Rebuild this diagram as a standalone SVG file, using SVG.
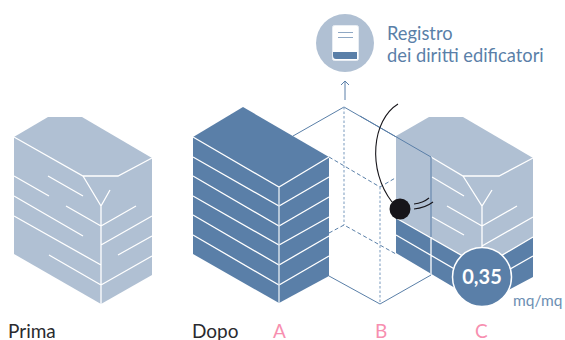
<svg xmlns="http://www.w3.org/2000/svg" width="565" height="340" viewBox="0 0 565 340">
<style>
text{font-family:"Lato","Liberation Sans",sans-serif}
.l{fill:#b0c0d3}.d{fill:#5a7fa8}
.w{fill:none;stroke:#fff;stroke-width:1.3}
.e{fill:none;stroke:#5a7fa8;stroke-width:1}
.s{fill:none;stroke:#5a7fa8;stroke-width:1;stroke-dasharray:4 2.5}
.v{fill:none;stroke:#8fabc9;stroke-width:1.2;stroke-dasharray:2.5 2}
.k{fill:none;stroke:#17151a;stroke-width:1.1}
.lab{font-size:19px;fill:#2a2a2e}
.pk{font-size:19px;fill:#f78fb0}
.bl{font-size:18.300px;fill:#5a7fa8}
</style>
<rect width="565" height="340" fill="#fff"/>
<g id="prima">
<path class="l" d="M14 137L48 117H82L152 158V275L101 304L14 254Z"/>
<path class="w" d="M14 137L83 176H118L152 158M83 176L101 206L110 190M101 206V304M14 176L49 196M48 176L83 196M14 196L83 236M66 206L101 226M14 216L101 265M49 255L101 285M101 226L136 206M101 245L152 216M118 255L152 236M101 285L152 256"/>
<text class="lab" x="8" y="338">Prima</text>
</g>
<g id="connectors">
<path class="e" d="M293 136L344 107L431 157V275L380 304L329 276"/>
<path class="s" d="M329 157L380 187L431 157M329 233L344 225L396 254"/>
<path class="v" d="M344 107V225M380 187V304"/>
<path class="e" d="M345 100V81M341 85L345 81L349 85"/>
</g>
<g id="dopo">
<path class="d" d="M193 137L243 107L329 157V276L279 303L193 254Z"/>
<path class="w" d="M193 137L279 187L329 157M193 157L279 206L329 177M193 176L279 226L329 197M193 196L279 245L329 217M193 215L279 265L329 236M193 235L279 285L329 256"/>
<path d="M279 187V303" fill="none" stroke="#d5dfea" stroke-width="1.5"/>
<text class="lab" x="192" y="338">Dopo</text>
<text class="pk" x="273" y="338">A</text>
</g>
<g id="b"><text class="pk" x="375" y="338">B</text></g>
<g id="c">
<path class="l" d="M396 136L429 117H463L533 158V237L482 267L396 218Z"/>
<path class="d" d="M396 218L482 267L533 237V277L482 304L396 253Z"/>
<path class="w" d="M431 157L463 176H499L533 158M463 176L482 206L492 190M482 206V262M432 177L464 196M447 206L482 226M432 217L464 235M482 226L517 206M482 246L533 217M396 218L482 267L533 237M396 235L482 285M431 237V275M482 285L533 256"/>
<path d="M431 157V237" fill="none" stroke="#5a7fa8"/>
<path class="e" d="M360 116L431 157"/>
<circle cx="482" cy="277" r="29.5" fill="#5a7fa8" stroke="#fff" stroke-width="1.5"/>
<text x="482" y="284" text-anchor="middle" font-size="20" font-weight="700" fill="#fff">0,35</text>
<text x="513" y="306" font-size="15.500" fill="#6d8fb3">mq/mq</text>
<text class="pk" x="475" y="338">C</text>
</g>
<g id="pin">
<path class="k" d="M398 104C372 120 367 170 392 202M414 204Q423 203 429 198M414 209Q425 208 433 202"/>
<circle cx="400" cy="209" r="10.5" fill="#17151a"/>
</g>
<g id="registro">
<circle cx="345" cy="43" r="29" class="l"/>
<rect x="332.500" y="25.500" width="26" height="35" rx="2" fill="#fff" stroke="#e8edf3"/>
<path d="M333 52H357V59H336Q333 59 333 55.500Z" class="d"/>
<path d="M338 32.500H353M338 37.500H353" fill="none" stroke="#8fa8c4" stroke-width="1"/>
<text class="bl" x="387" y="40">Registro</text>
<text class="bl" x="387" y="62">dei diritti edificatori</text>
</g>
</svg>
